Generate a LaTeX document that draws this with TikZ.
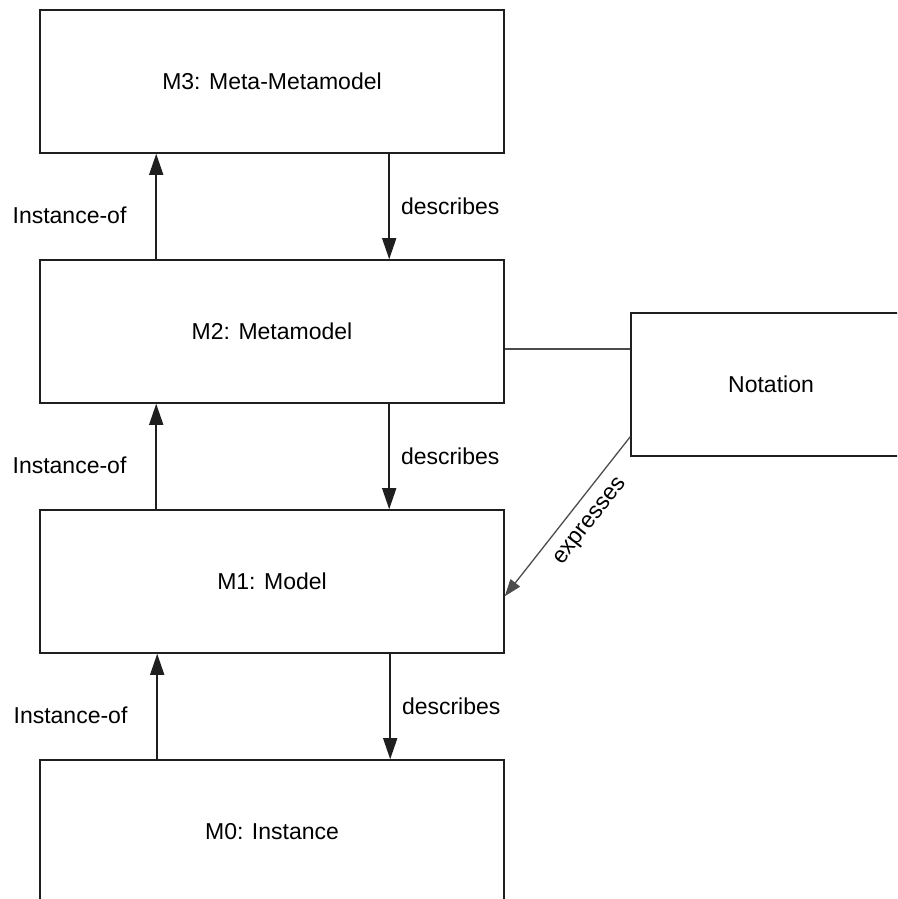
\documentclass[tikz,border=0pt]{standalone}
\usepackage{fontspec}
\setmainfont{Liberation Sans}
\usetikzlibrary{arrows.meta,calc}
\begin{document}
\begin{tikzpicture}[x=1pt,y=-1pt,
  level/.style={draw=black!88,line width=1.6pt,rectangle,inner sep=0pt,
    minimum width=464pt,minimum height=143pt,font=\fontsize{23}{28}\selectfont},
  notebox/.style={draw=black!88,line width=1.6pt,rectangle,inner sep=0pt,
    minimum width=280pt,minimum height=143pt,font=\fontsize{23}{28}\selectfont},
  arr/.style={draw=black!88,line width=1.6pt,-{Triangle[length=21pt,width=14pt]}},
  link/.style={draw=black!70,line width=1.3pt},
  thinarr/.style={draw=black!70,line width=1.3pt,-{Triangle[length=17pt,width=12pt]}},
  lbl/.style={font=\fontsize{23}{28}\selectfont,inner sep=3pt}]
\useasboundingbox (0,0) rectangle (897,899);
\clip (0,0) rectangle (897,899);

% metamodelling levels
\node[level] (m3) at (272,81.5) {M3: Meta-Metamodel};
\node[level] (m2) at (272,331.5) {M2: Metamodel};
\node[level] (m1) at (272,581.5) {M1: Model};
\node[level] (m0) at (272,831.5) {M0: Instance};
\node[notebox] (nota) at (771,384.5) {Notation};

% instance-of (upwards) and describes (downwards)
\draw[arr] ($(m2.north west)+(117,0)$) -- node[lbl,pos=0.42,anchor=east,xshift=-26pt] {Instance-of} ($(m3.south west)+(117,0)$);
\draw[arr] ($(m3.south west)+(350,0)$) -- node[lbl,pos=0.5,anchor=west,xshift=8pt] {describes} ($(m2.north west)+(350,0)$);
\draw[arr] ($(m1.north west)+(117,0)$) -- node[lbl,pos=0.42,anchor=east,xshift=-26pt] {Instance-of} ($(m2.south west)+(117,0)$);
\draw[arr] ($(m2.south west)+(350,0)$) -- node[lbl,pos=0.5,anchor=west,xshift=8pt] {describes} ($(m1.north west)+(350,0)$);
\draw[arr] ($(m0.north west)+(118,0)$) -- node[lbl,pos=0.42,anchor=east,xshift=-26pt] {Instance-of} ($(m1.south west)+(118,0)$);
\draw[arr] ($(m1.south west)+(351,0)$) -- node[lbl,pos=0.5,anchor=west,xshift=8pt] {describes} ($(m0.north west)+(351,0)$);

% notation links
\draw[link] ($(m2.east)+(0,17.5)$) coordinate (mlink) -- (mlink -| nota.west);
\draw[thinarr] ($(nota.south west)+(0,-20)$) -- node[lbl,pos=0.45,rotate=52.2,yshift=-22pt] {expresses} ($(m1.north east)+(0,87)$);
\end{tikzpicture}
\end{document}
